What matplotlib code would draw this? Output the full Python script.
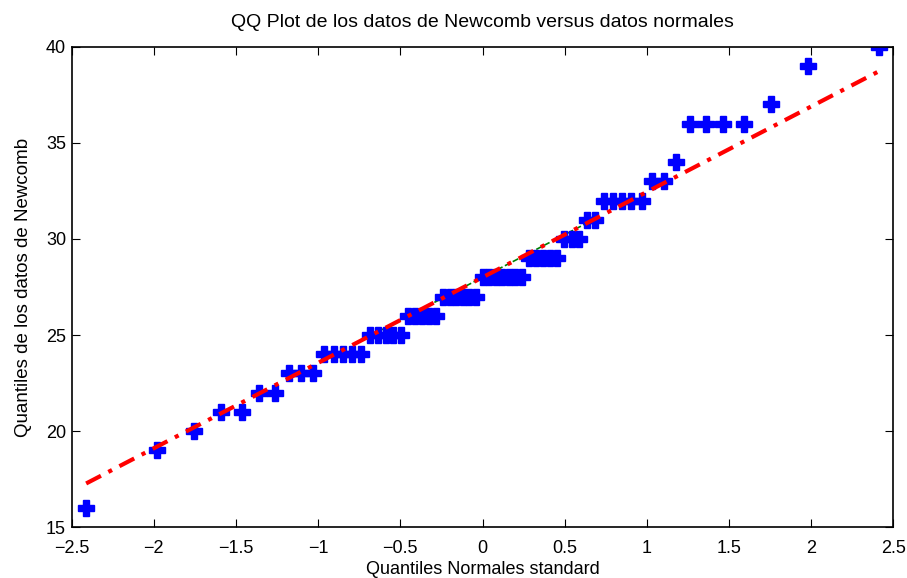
import numpy as np
import matplotlib
matplotlib.use("Agg")
import matplotlib.pyplot as plt
from statistics import NormalDist

# Newcomb data (outliers -44 and -2 removed)
newcomb = [28, 26, 33, 24, 34, 27, 40, 29, 22, 24, 21, 25, 30, 23, 29, 31,
           19, 24, 20, 36, 32, 36, 28, 25, 21, 28, 29, 37, 25, 28, 26, 30,
           32, 36, 26, 30, 22, 36, 23, 27, 27, 28, 27, 31, 27, 26, 33, 26,
           32, 32, 24, 39, 28, 24, 25, 32, 25, 29, 27, 28, 29, 16, 23]

xticks = [-2.5, -2, -1.5, -1, -0.5, 0, 0.5, 1, 1.5, 2, 2.5]
yticks = [15, 20, 25, 30, 35, 40]

plt.rcParams["font.family"] = ["Liberation Sans", "DejaVu Sans"]

y = np.sort(np.array(newcomb, dtype=float))
n = len(y)
nd = NormalDist()
x = np.array([nd.inv_cdf((i - 0.5) / n) for i in range(1, n + 1)])

# reference line through first and third quartiles
q1x, q3x = nd.inv_cdf(0.25), nd.inv_cdf(0.75)
q1y, q3y = np.percentile(y, [25, 75])
slope = (q3y - q1y) / (q3x - q1x)
icpt = q1y - slope * q1x

fig = plt.figure(figsize=(9.07, 5.78), dpi=100)
ax = fig.add_axes([0.079, 0.088, 0.906, 0.831])

ax.plot([q1x, q3x], [q1y, q3y], color="green", linestyle="--", linewidth=1.2, zorder=1)
ax.plot(x, y, linestyle="none", marker="P", markersize=11,
        color="blue", markeredgecolor="blue", zorder=2)
ax.plot([x[0], x[-1]], [icpt + slope * x[0], icpt + slope * x[-1]],
        color="red", linestyle=(0, (4, 2, 1, 2)), linewidth=3, zorder=3)

ax.set_xlim(-2.5, 2.5)
ax.set_ylim(15, 40)
ax.set_xticks(xticks)
ax.set_yticks(yticks)
ax.set_xticklabels([f"{t:g}".replace("-", "\u2212") for t in xticks])
ax.tick_params(direction="in", top=True, right=True, length=6, labelsize=13)
ax.tick_params(axis="x", pad=9)
ax.tick_params(axis="y", pad=4)

for s in ax.spines.values():
    s.set_linewidth(1.2)

ax.set_title("QQ Plot de los datos de Newcomb versus datos normales", fontsize=14, pad=14)
ax.set_xlabel("Quantiles Normales standard", fontsize=13, labelpad=3)
ax.set_ylabel("Quantiles de los datos de Newcomb", fontsize=13.5, labelpad=10)

fig.savefig("out.png", dpi=100)
